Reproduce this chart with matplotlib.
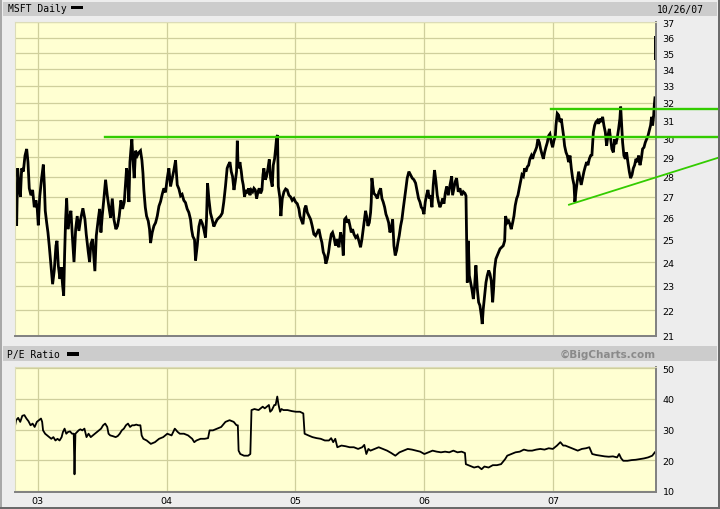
import matplotlib
matplotlib.use('Agg')
import matplotlib.pyplot as plt
from matplotlib.patches import Rectangle
from matplotlib.lines import Line2D
from matplotlib.ticker import NullLocator

# MSFT daily price (x = decimal year)
price_year = [2002.824, 2002.832, 2002.837, 2002.845, 2002.855, 2002.866, 2002.876, 2002.889, 2002.902, 2002.915,
              2002.925, 2002.935, 2002.948, 2002.961, 2002.974, 2002.987, 2002.997, 2003.005, 2003.016, 2003.031,
              2003.044, 2003.052, 2003.059, 2003.070, 2003.080, 2003.090, 2003.103, 2003.116, 2003.129, 2003.142,
              2003.150, 2003.160, 2003.173, 2003.183, 2003.194, 2003.202, 2003.209, 2003.217, 2003.225, 2003.235,
              2003.245, 2003.258, 2003.269, 2003.282, 2003.295, 2003.307, 2003.320, 2003.333, 2003.351, 2003.367,
              2003.377, 2003.393, 2003.403, 2003.413, 2003.426, 2003.437, 2003.444, 2003.455, 2003.470, 2003.481,
              2003.491, 2003.501, 2003.514, 2003.527, 2003.540, 2003.553, 2003.566, 2003.579, 2003.592, 2003.607,
              2003.620, 2003.633, 2003.646, 2003.659, 2003.672, 2003.680, 2003.690, 2003.698, 2003.708, 2003.716,
              2003.724, 2003.731, 2003.739, 2003.749, 2003.760, 2003.773, 2003.786, 2003.798, 2003.809, 2003.817,
              2003.824, 2003.835, 2003.845, 2003.858, 2003.868, 2003.876, 2003.889, 2003.902, 2003.915, 2003.928,
              2003.941, 2003.954, 2003.966, 2003.979, 2003.992, 2004.005, 2004.018, 2004.031, 2004.044, 2004.057,
              2004.070, 2004.083, 2004.096, 2004.109, 2004.121, 2004.134, 2004.147, 2004.160, 2004.173, 2004.186,
              2004.194, 2004.204, 2004.217, 2004.225, 2004.238, 2004.251, 2004.264, 2004.277, 2004.289, 2004.302,
              2004.310, 2004.318, 2004.328, 2004.341, 2004.354, 2004.367, 2004.380, 2004.393, 2004.406, 2004.419,
              2004.432, 2004.444, 2004.457, 2004.470,
              2004.479, 2004.492, 2004.502, 2004.512, 2004.523, 2004.533, 2004.543, 2004.549, 2004.554, 2004.562,
              2004.569, 2004.580, 2004.587, 2004.595, 2004.605, 2004.616, 2004.626, 2004.637, 2004.647, 2004.657,
              2004.668, 2004.678, 2004.688, 2004.699, 2004.709, 2004.719, 2004.730, 2004.740, 2004.748, 2004.755,
              2004.766, 2004.776, 2004.787, 2004.797, 2004.807, 2004.820, 2004.828, 2004.838, 2004.846, 2004.854,
              2004.861, 2004.867, 2004.880, 2004.887, 2004.898, 2004.911, 2004.924, 2004.936, 2004.949, 2004.962,
              2004.975, 2004.988, 2005.001, 2005.014, 2005.027, 2005.035, 2005.045, 2005.058, 2005.071, 2005.081,
              2005.092, 2005.105, 2005.118, 2005.130, 2005.143, 2005.156, 2005.169, 2005.182, 2005.195, 2005.205,
              2005.216, 2005.226, 2005.236, 2005.247, 2005.257, 2005.267, 2005.278, 2005.288, 2005.299, 2005.311,
              2005.324, 2005.337, 2005.350, 2005.363, 2005.371, 2005.381, 2005.392, 2005.402, 2005.412, 2005.423,
              2005.433, 2005.443, 2005.454, 2005.467, 2005.480, 2005.492, 2005.505, 2005.516, 2005.526, 2005.536,
              2005.544, 2005.552, 2005.562, 2005.573, 2005.583, 2005.588, 2005.593, 2005.601, 2005.609, 2005.622,
              2005.635, 2005.648, 2005.661, 2005.671, 2005.681, 2005.692, 2005.702, 2005.712, 2005.723, 2005.733,
              2005.743, 2005.754, 2005.764, 2005.774, 2005.785, 2005.795, 2005.805, 2005.816, 2005.826, 2005.836,
              2005.847, 2005.857, 2005.867, 2005.880, 2005.893, 2005.906, 2005.919, 2005.932, 2005.945, 2005.955,
              2005.966, 2005.976, 2005.986, 2005.997, 2006.007, 2006.017, 2006.028, 2006.038, 2006.048, 2006.059,
              2006.069, 2006.079, 2006.090, 2006.100, 2006.110, 2006.121, 2006.131, 2006.142, 2006.152, 2006.162,
              2006.173,
              2006.186, 2006.199, 2006.212, 2006.219, 2006.230, 2006.240, 2006.250, 2006.263, 2006.276, 2006.289,
              2006.302, 2006.315, 2006.323, 2006.328, 2006.333, 2006.341, 2006.349, 2006.359, 2006.369, 2006.380,
              2006.390, 2006.400, 2006.411, 2006.421, 2006.431, 2006.442, 2006.449, 2006.457, 2006.468, 2006.478,
              2006.488, 2006.499, 2006.509, 2006.519, 2006.530, 2006.537, 2006.545, 2006.555, 2006.566, 2006.576,
              2006.587, 2006.599, 2006.612, 2006.623, 2006.630, 2006.643, 2006.654, 2006.664, 2006.674, 2006.685,
              2006.695, 2006.705, 2006.716, 2006.726, 2006.736, 2006.747, 2006.757, 2006.768, 2006.778, 2006.788,
              2006.799, 2006.809, 2006.819, 2006.830, 2006.840, 2006.850, 2006.861, 2006.871, 2006.881, 2006.892,
              2006.902, 2006.912, 2006.923, 2006.933, 2006.943, 2006.954, 2006.964, 2006.974, 2006.985, 2006.995,
              2007.005, 2007.016, 2007.021, 2007.031, 2007.042, 2007.052, 2007.062, 2007.073, 2007.080, 2007.088,
              2007.099, 2007.109, 2007.119, 2007.130, 2007.140, 2007.150, 2007.161, 2007.168, 2007.176, 2007.186,
              2007.197, 2007.207, 2007.217, 2007.228, 2007.238, 2007.248, 2007.259, 2007.269, 2007.280, 2007.290,
              2007.300, 2007.311, 2007.321, 2007.331, 2007.342, 2007.352, 2007.362, 2007.373, 2007.383, 2007.393,
              2007.404, 2007.414, 2007.424, 2007.435, 2007.445, 2007.455, 2007.466, 2007.476, 2007.486, 2007.497,
              2007.507, 2007.517, 2007.523, 2007.530, 2007.538, 2007.548, 2007.559, 2007.569, 2007.579, 2007.590,
              2007.600, 2007.611, 2007.621, 2007.631, 2007.642, 2007.652, 2007.662, 2007.673, 2007.683, 2007.693,
              2007.704, 2007.714, 2007.724, 2007.735, 2007.745, 2007.755, 2007.763, 2007.771, 2007.779, 2007.784,
              2007.789]
price = [26.08, 26.92, 25.62, 28.43, 27.59, 27.00, 28.43, 28.26, 29.09, 29.44,
         28.75, 27.42, 27.08, 27.34, 26.50, 26.83, 26.42, 25.65, 27.00, 27.93,
         28.62, 27.59, 26.33, 25.77, 25.32, 24.72, 23.86, 23.06, 23.64, 24.72,
         24.94, 23.86, 23.28, 23.78, 22.99, 22.59, 24.29, 25.92, 26.92, 25.47,
         25.92, 26.33, 25.17, 24.00, 25.47, 26.08, 25.39, 25.92, 26.45, 25.92,
         25.24, 24.43, 24.00, 24.80, 25.02, 24.14, 23.61, 25.17, 25.92, 26.42,
         25.32, 26.08, 26.92, 27.85, 27.08, 26.50, 26.00, 26.92, 25.92, 25.47,
         25.62, 26.08, 26.83, 26.42, 26.75, 27.51, 28.43, 28.02, 26.75, 28.75,
         29.44, 29.96, 28.92, 27.93, 29.35, 29.09, 29.26, 29.35, 28.84, 28.18,
         27.34, 26.50, 26.08, 25.85, 25.47, 24.84, 25.32, 25.62, 25.77, 26.08,
         26.55, 26.78, 27.12, 27.42, 27.22, 27.90, 28.43, 27.51, 27.93, 28.34,
         28.84, 27.59, 27.39, 27.05, 27.12, 26.83, 26.72, 26.42, 26.25, 25.92,
         25.47, 25.14, 24.99, 24.07, 24.72, 25.59, 25.92, 25.74, 25.47, 25.09,
         25.92, 27.68, 26.92, 26.22, 25.92, 25.59, 25.77, 25.92, 26.00, 26.08,
         26.22, 26.75, 27.51, 28.43,
         28.59, 28.75, 28.26, 28.02, 27.34, 27.76, 28.26, 29.88, 28.75, 28.43,
         28.75, 28.26, 27.85, 27.59, 27.00, 27.34, 27.17, 27.42, 27.08, 27.34,
         27.25, 27.42, 27.34, 26.92, 27.25, 27.42, 27.17, 27.34, 28.10, 28.43,
         27.85, 28.02, 28.43, 28.89, 27.93, 27.51, 28.59, 28.92, 29.44, 30.06,
         30.19, 27.51, 26.92, 26.08, 26.92, 27.25, 27.39, 27.34, 27.08, 27.00,
         26.83, 26.92, 26.75, 26.67, 26.42, 26.08, 25.92, 25.70, 26.42, 26.58,
         26.25, 26.08, 25.92, 25.62, 25.24, 25.17, 25.32, 25.47, 25.09, 24.87,
         24.43, 24.29, 23.93, 24.14, 24.43, 24.87, 25.24, 25.32, 25.09, 24.72,
         25.02, 24.65, 25.32, 24.94, 24.29, 25.92, 26.00, 25.77, 25.92, 25.62,
         25.32, 25.47, 25.24, 25.09, 25.17, 24.94, 24.65, 25.02, 25.47, 25.92,
         26.33, 26.08, 25.62, 25.77, 26.25, 26.75, 27.93, 27.51, 27.17, 27.08,
         26.92, 27.25, 27.42, 26.92, 26.75, 26.50, 26.17, 26.00, 25.77, 25.32,
         25.47, 25.92, 24.72, 24.29, 24.51, 24.87, 25.17, 25.62, 25.92, 26.42,
         26.92, 27.42, 27.93, 28.26, 28.10, 27.93, 27.85, 27.68, 27.25, 26.92,
         26.75, 26.50, 26.42, 26.17, 26.75, 27.08, 27.34, 26.92, 27.08, 26.50,
         27.59, 28.34, 27.76, 27.08, 26.75, 26.50, 26.67, 26.92, 26.67, 27.17,
         27.51,
         27.08, 27.58, 28.02, 27.08, 27.42, 27.76, 27.93, 27.25, 27.42, 27.08,
         27.25, 27.17, 27.05, 25.02, 23.13, 24.94, 23.42, 23.13, 22.85, 22.45,
         22.99, 23.86, 22.85, 22.32, 22.19, 21.79, 21.46, 22.05, 22.59, 23.13,
         23.42, 23.64, 23.49, 23.20, 22.32, 22.85, 23.71, 24.14, 24.29, 24.43,
         24.58, 24.65, 24.72, 24.94, 26.08, 25.77, 25.85, 25.70, 25.47, 25.77,
         26.08, 26.58, 26.92, 27.08, 27.42, 27.76, 28.10, 28.02, 28.43, 28.26,
         28.51, 28.59, 28.92, 29.09, 28.92, 29.18, 29.35, 29.53, 29.96, 29.79,
         29.44, 29.18, 28.92, 29.26, 29.53, 29.79, 30.15, 30.25, 29.79, 29.53,
         29.88, 30.15, 30.72, 31.39, 31.29, 30.91, 31.10, 30.53, 30.15, 29.61,
         29.26, 29.09, 28.75, 29.09, 28.43, 27.93, 27.59, 26.75, 27.25, 27.76,
         28.26, 27.93, 27.59, 27.93, 28.26, 28.51, 28.75, 28.59, 28.92, 29.09,
         29.12, 30.34, 30.72, 30.91, 31.00, 30.81, 31.10, 30.91, 31.20, 30.72,
         30.34, 29.61, 30.15, 30.53, 29.96, 29.44, 29.26, 29.96, 29.70, 30.06,
         30.53, 31.10, 31.78, 30.81, 29.79, 29.09, 28.92, 29.26, 28.75, 28.26,
         27.93, 28.10, 28.43, 28.59, 28.92, 28.75, 29.09, 28.59, 28.92, 29.44,
         29.53, 29.79, 29.96, 30.15, 30.43, 30.72, 31.20, 30.72, 31.29, 31.88,
         32.29]

# last session (10/26/07) gapped up
last_year = 2007.789
last_low = 34.6
last_high = 36.1

# P/E ratio
pe_year = [2002.823, 2002.833, 2002.849, 2002.865, 2002.881, 2002.897, 2002.913, 2002.929, 2002.945, 2002.961,
           2002.977, 2002.994, 2003.010, 2003.026, 2003.035, 2003.042, 2003.058, 2003.074, 2003.090, 2003.106,
           2003.122, 2003.138, 2003.154, 2003.170, 2003.186, 2003.196, 2003.209, 2003.222, 2003.235, 2003.251,
           2003.267, 2003.280, 2003.286, 2003.293, 2003.305, 2003.318, 2003.331, 2003.347, 2003.363, 2003.379,
           2003.395, 2003.412, 2003.428, 2003.444, 2003.460, 2003.476, 2003.492, 2003.508, 2003.524, 2003.540,
           2003.550, 2003.563, 2003.582, 2003.605, 2003.621, 2003.637, 2003.653, 2003.669, 2003.685, 2003.701,
           2003.717, 2003.733, 2003.749, 2003.765, 2003.781, 2003.797, 2003.807, 2003.820, 2003.846, 2003.878,
           2003.910, 2003.942, 2003.974, 2004.006, 2004.039, 2004.064, 2004.087, 2004.103, 2004.135, 2004.167,
           2004.199, 2004.215, 2004.232, 2004.264, 2004.296, 2004.322, 2004.334, 2004.360, 2004.392, 2004.424,
           2004.457, 2004.489, 2004.521, 2004.543, 2004.553, 2004.559, 2004.572, 2004.601, 2004.633, 2004.650,
           2004.659, 2004.682, 2004.714, 2004.730, 2004.746, 2004.762, 2004.778, 2004.794, 2004.804, 2004.817,
           2004.836, 2004.846, 2004.859, 2004.868, 2004.881, 2004.891, 2004.907, 2004.939, 2004.971, 2005.003,
           2005.035, 2005.061, 2005.071, 2005.100, 2005.132, 2005.164, 2005.196, 2005.228, 2005.260, 2005.277,
           2005.293, 2005.309, 2005.325, 2005.357, 2005.389, 2005.421, 2005.453, 2005.486, 2005.518, 2005.534,
           2005.550, 2005.566, 2005.582, 2005.614, 2005.646, 2005.678, 2005.711, 2005.743, 2005.775, 2005.807,
           2005.839, 2005.871, 2005.904, 2005.936, 2005.968, 2006.000, 2006.032, 2006.064, 2006.096, 2006.129,
           2006.161, 2006.193, 2006.225, 2006.257, 2006.289, 2006.315, 2006.322, 2006.354, 2006.386, 2006.418,
           2006.444, 2006.466, 2006.498, 2006.531, 2006.563, 2006.595, 2006.627, 2006.643, 2006.675, 2006.707,
           2006.740, 2006.772, 2006.804, 2006.836, 2006.868, 2006.900, 2006.932, 2006.965, 2006.997, 2007.029,
           2007.055, 2007.077, 2007.093, 2007.125, 2007.158, 2007.190, 2007.222, 2007.254, 2007.280, 2007.302,
           2007.334, 2007.367, 2007.399, 2007.431, 2007.463, 2007.495, 2007.511, 2007.527, 2007.543, 2007.576,
           2007.608, 2007.640, 2007.672, 2007.704, 2007.736, 2007.768, 2007.788]
pe = [30.83, 33.04, 33.81, 32.49, 34.48, 34.70, 33.59, 32.71, 31.38, 31.93,
      30.83, 32.49, 33.04, 33.59, 32.49, 29.72, 28.62, 28.07, 27.51, 26.96,
      27.51, 26.41, 26.96, 26.41, 27.51, 29.17, 30.28, 28.62, 29.17, 29.39,
      28.62, 28.62, 15.36, 28.62, 29.17, 29.72, 30.06, 29.72, 30.28, 27.51,
      28.62, 27.51, 28.07, 28.62, 29.17, 29.72, 30.28, 31.38, 31.93, 30.83,
      28.62, 28.07, 27.85, 27.51, 27.85, 28.62, 29.72, 30.28, 31.38, 31.93,
      30.83, 31.38, 31.38, 31.60, 31.38, 31.38, 28.07, 26.96, 26.41, 25.30,
      25.86, 26.96, 27.51, 28.62, 28.07, 30.28, 29.17, 28.62, 28.62, 28.07,
      26.96, 25.86, 26.41, 26.96, 26.96, 27.18, 29.72, 29.72, 30.28, 30.83,
      32.49, 33.04, 32.49, 31.38, 31.38, 23.09, 21.99, 21.44, 21.44, 21.99,
      36.35, 36.69, 36.35, 36.91, 37.46, 36.91, 37.46, 38.01, 35.80, 36.35,
      38.01, 38.01, 40.77, 38.23, 35.80, 36.69, 36.35, 36.35, 36.02, 35.80,
      35.80, 35.25, 28.62, 28.07, 27.51, 27.18, 26.96, 26.41, 26.41, 27.18,
      25.86, 26.96, 24.20, 24.75, 24.53, 24.20, 24.20, 23.65, 24.20, 24.97,
      21.99, 23.65, 23.09, 23.65, 24.20, 23.65, 23.09, 22.32, 21.44, 22.54,
      23.09, 23.65, 23.43, 23.09, 22.76, 21.99, 22.54, 23.09, 22.76, 22.54,
      22.76, 22.54, 23.09, 22.54, 22.76, 22.32, 18.67, 18.12, 17.57, 17.90,
      17.02, 17.90, 17.57, 18.34, 18.34, 18.67, 20.33, 21.44, 21.99, 22.54,
      22.76, 23.43, 23.09, 23.09, 23.43, 23.65, 23.43, 23.87, 23.65, 24.75,
      25.86, 24.75, 24.75, 24.20, 23.65, 23.09, 23.65, 23.87, 24.20, 21.99,
      21.66, 21.44, 21.22, 21.10, 21.22, 20.88, 21.99, 20.55, 19.78, 19.78,
      20.00, 20.11, 20.33, 20.55, 20.88, 21.44, 22.54]

year_ticks = [2003, 2004, 2005, 2006, 2007]
year_labels = ['03', '04', '05', '06', '07']
price_ticks = list(range(21, 38))
pe_ticks = [10, 20, 30, 40, 50]

# green trendlines drawn on the chart: ([x0, x1], [y0, y1])
resist_low = ([2003.522, 2008.30], [30.10, 30.10])
resist_high = ([2006.982, 2008.30], [31.63, 31.63])
support = ([2007.122, 2008.29], [26.62, 29.00])

W, H = 720.0, 510.0
bg = '#ededed'
panel = '#ffffd2'
gridc = '#cfcf9c'
green = '#33cc00'

fig = plt.figure(figsize=(7.2, 5.1), dpi=100, facecolor=bg)


def box(x, y, w, h, color):
    # rectangle in figure pixels, y measured from the top
    fig.patches.append(Rectangle((x / W, 1 - (y + h) / H), w / W, h / H,
                                 transform=fig.transFigure, facecolor=color,
                                 edgecolor='none', zorder=0))


def txt(x, y, s, **kw):
    fig.text(x / W, 1 - y / H, s, va='center', **kw)


# header bars
box(3, 3, 714, 14, '#cccccc')
box(3, 347, 714, 15, '#cccccc')
# outer bevel
box(0, 0, 2, 510, '#a8a8a8')
box(0, 0, 720, 1, '#a8a8a8')
box(718, 0, 2, 510, '#6a6a6a')
box(0, 508, 720, 2, '#6a6a6a')

mono = 'DejaVu Sans Mono'
txt(8, 9.5, 'MSFT Daily', family=mono, size=7)
box(71, 7, 12, 3, 'black')
txt(704, 9.5, '10/26/07', family=mono, size=7, ha='right')
txt(7, 355, 'P/E Ratio', family=mono, size=7)
box(67, 353, 12, 3.5, 'black')
txt(656, 354.5, '\u00a9BigCharts.com', size=7.5, weight='bold', color='#8a8a8a', ha='right')

left = 14.7
right = 655.6


def make_axes(top, bottom):
    ax = fig.add_axes([left / W, 1 - bottom / H, (right - left) / W, (bottom - top) / H])
    ax.set_facecolor(panel)
    ax.set_xlim(2002.822, 2007.794)
    ax.set_xticks(year_ticks)
    ax.yaxis.tick_right()
    ax.tick_params(length=0, labelsize=6.8, pad=5)
    ax.grid(True, color=gridc, lw=0.9)
    ax.set_axisbelow(True)
    for s in ['left', 'top']:
        ax.spines[s].set_color('#dcdcb8')
        ax.spines[s].set_linewidth(0.8)
    for s in ['right', 'bottom']:
        ax.spines[s].set_color('#808080')
        ax.spines[s].set_linewidth(1.4)
    return ax


# price panel
ax1 = make_axes(22.7, 337.0)
ax1.set_yscale('log')
ax1.set_ylim(21, 37.05)
ax1.yaxis.set_minor_locator(NullLocator())
ax1.set_yticks(price_ticks)
ax1.set_yticklabels([str(t) for t in price_ticks])
ax1.set_xticklabels([])
ax1.plot(price_year, price, color='black', lw=2.0, solid_joinstyle='miter')
ax1.vlines(last_year, last_low, last_high, color='black', lw=1.4)

for xs, ys, lw in [(resist_low[0], resist_low[1], 1.7),
                   (resist_high[0], resist_high[1], 1.7),
                   (support[0], support[1], 1.3)]:
    ax1.add_line(Line2D(xs, ys, color=green, lw=lw, clip_on=False, zorder=10))

# P/E panel
ax2 = make_axes(368.3, 492.7)
ax2.set_ylim(9.67, 50.33)
ax2.set_yticks(pe_ticks)
ax2.set_yticklabels([str(t) for t in pe_ticks])
ax2.set_xticklabels(year_labels)
ax2.tick_params(axis='x', pad=3)
ax2.plot(pe_year, pe, color='black', lw=1.3)

fig.savefig('out.png', dpi=100, facecolor=bg)
